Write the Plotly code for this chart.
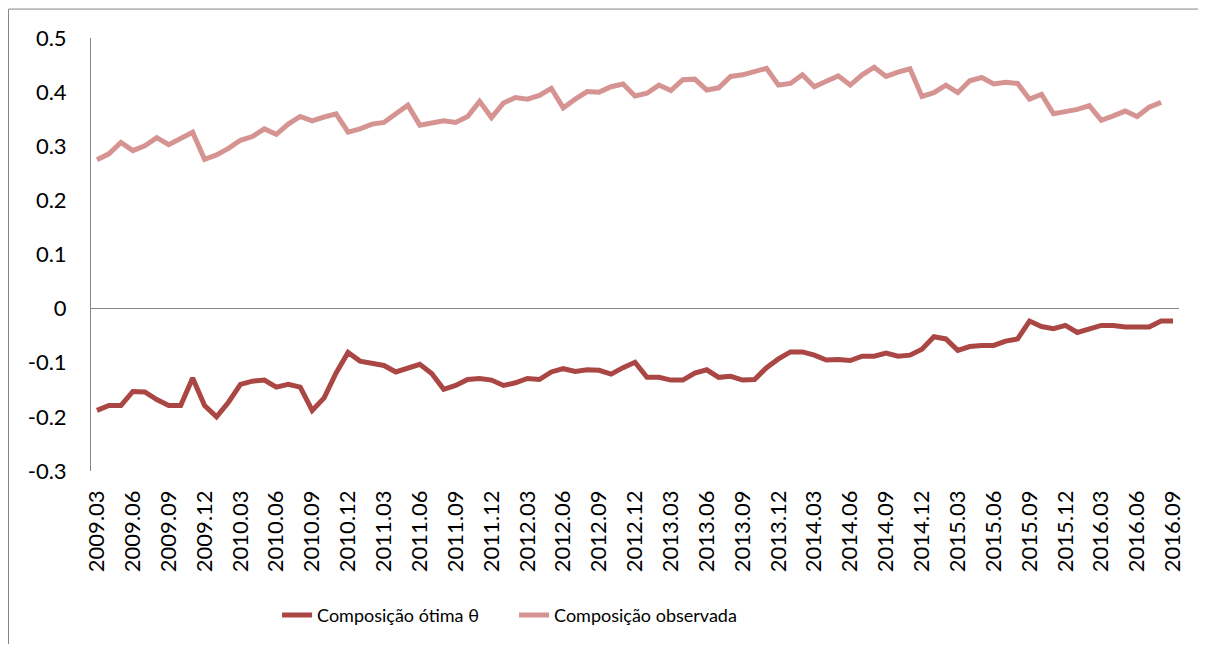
import plotly.graph_objects as go

# monthly categories 2009.03 .. 2016.09
months = []
for y in range(2009, 2017):
    for m in range(1, 13):
        if (y == 2009 and m < 3) or (y == 2016 and m > 9):
            continue
        months.append(f"{y}.{m:02d}")

tick_labels = months[::3]

y_ticks = [0.5, 0.4, 0.3, 0.2, 0.1, 0, -0.1, -0.2, -0.3]
y_text = ["0.5", "0.4", "0.3", "0.2", "0.1", "0", "-0.1", "-0.2", "-0.3"]

# Composição ótima θ
otima = [
    -0.188, -0.179, -0.179, -0.153, -0.154, -0.168, -0.179, -0.179, -0.128, -0.179,
    -0.200, -0.173, -0.140, -0.134, -0.132, -0.145, -0.140, -0.145, -0.188, -0.165,
    -0.119, -0.081, -0.097, -0.100, -0.105, -0.117, -0.111, -0.103, -0.120, -0.149,
    -0.142, -0.131, -0.129, -0.132, -0.142, -0.137, -0.129, -0.131, -0.117, -0.111,
    -0.116, -0.113, -0.114, -0.121, -0.109, -0.099, -0.127, -0.127, -0.132, -0.132,
    -0.119, -0.113, -0.127, -0.125, -0.132, -0.131, -0.109, -0.093, -0.080, -0.080,
    -0.086, -0.095, -0.094, -0.096, -0.088, -0.088, -0.082, -0.088, -0.086, -0.075,
    -0.052, -0.056, -0.077, -0.070, -0.068, -0.068, -0.060, -0.056, -0.023, -0.033,
    -0.037, -0.031, -0.044, -0.037, -0.031, -0.031, -0.034, -0.034, -0.034, -0.023,
    -0.023,
]

# Composição observada (ends one month earlier)
observada = [
    0.275, 0.286, 0.307, 0.292, 0.301, 0.316, 0.303, 0.315, 0.326, 0.276,
    0.284, 0.296, 0.311, 0.318, 0.332, 0.322, 0.341, 0.355, 0.347, 0.354,
    0.360, 0.326, 0.332, 0.341, 0.344, 0.360, 0.376, 0.339, 0.343, 0.347,
    0.344, 0.355, 0.383, 0.353, 0.380, 0.390, 0.387, 0.394, 0.407, 0.371,
    0.387, 0.401, 0.400, 0.410, 0.415, 0.393, 0.398, 0.413, 0.403, 0.423,
    0.424, 0.404, 0.408, 0.429, 0.432, 0.439, 0.444, 0.413, 0.416, 0.432,
    0.410, 0.420, 0.430, 0.413, 0.432, 0.446, 0.429, 0.437, 0.443, 0.392,
    0.399, 0.413, 0.399, 0.421, 0.427, 0.415, 0.418, 0.416, 0.387, 0.396,
    0.360, 0.364, 0.368, 0.375, 0.348, 0.356, 0.365, 0.355, 0.372, 0.381,
]

RED = "#AA4643"
PINK = "#D59492"
AXIS = "#868686"
FONT = "Lato"

fig = go.Figure()
fig.add_trace(go.Scatter(x=months, y=otima, mode="lines", name="Composição ótima θ",
                         line=dict(color=RED, width=5)))
fig.add_trace(go.Scatter(x=months[:len(observada)], y=observada, mode="lines",
                         name="Composição observada", line=dict(color=PINK, width=5)))

# chart-area frame: only its left and top edges are visible in the picture
frame = dict(type="line", xref="paper", yref="paper", line=dict(color=AXIS, width=1))

# page body has an 8px margin: keep the figure inside the window so nothing scrolls
fig.update_layout(
    width=1190, height=636,
    margin=dict(l=83, r=19, t=30, b=172),
    paper_bgcolor="white", plot_bgcolor="white",
    font=dict(family=FONT, size=22, color="black"),
    showlegend=True,
    legend=dict(orientation="h", x=0.171, xanchor="left", y=-0.33, yanchor="middle",
                font=dict(size=18), itemwidth=30,
                entrywidth=192, entrywidthmode="pixels"),
    xaxis=dict(type="category", categoryorder="array", categoryarray=months,
               range=[-0.5, len(months) - 0.5],
               tickmode="array", tickvals=tick_labels, ticktext=tick_labels,
               tickangle=-90, showline=False, showgrid=False, ticks="",
               ticklabelstandoff=14, tickfont=dict(size=22)),
    yaxis=dict(range=[-0.3, 0.5], tickmode="array", tickvals=y_ticks, ticktext=y_text,
               showgrid=False, showline=True, linecolor=AXIS, linewidth=1,
               zeroline=True, zerolinecolor=AXIS, zerolinewidth=1,
               ticks="", ticklabelstandoff=19, tickfont=dict(size=22)),
    shapes=[
        dict(frame, x0=-0.0758, x1=-0.0758, y0=-0.6, y1=1.0668),
        dict(frame, x0=-0.0758, x1=1.1, y0=1.0668, y1=1.0668),
    ],
)

fig.write_html("out.html")
